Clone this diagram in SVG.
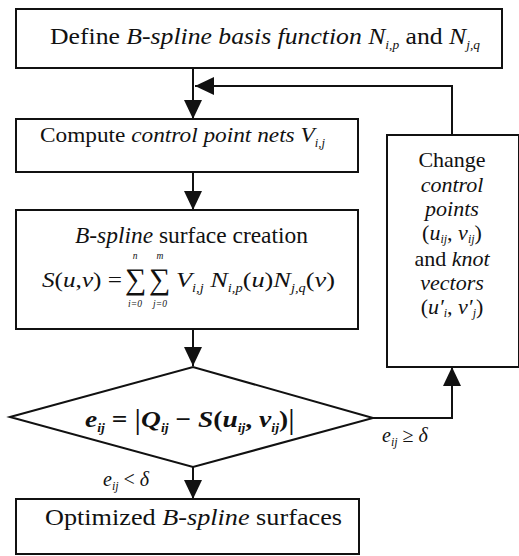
<svg xmlns="http://www.w3.org/2000/svg" width="519" height="556" viewBox="0 0 519 556">
<style>
.box{fill:#fff;stroke:#111;stroke-width:2}
.t{font-family:"Liberation Serif","Times New Roman","DejaVu Serif",serif;font-size:22px;fill:#111}
.big{font-size:23px}
.sig{font-size:30px}
.lbl{font-size:20px}
.dec{font-size:24px;font-weight:bold}
.bar{font-size:30px;font-weight:normal}
.i{font-style:italic}
.sub{font-size:12px;font-style:italic}
.lim{font-family:"Liberation Serif","Times New Roman","DejaVu Serif",serif;font-size:9.5px;font-style:italic;fill:#111;text-anchor:middle}
.c{text-anchor:middle}
.con{fill:none;stroke:#111;stroke-width:2}
</style>
<defs>
<marker id="ah" markerUnits="userSpaceOnUse" markerWidth="20" markerHeight="20" refX="19" refY="9" orient="auto">
<path d="M0,0 L19,9 L0,18 z" fill="#111"/>
</marker>
</defs>
<rect width="519" height="556" fill="#fff"/>
<g id="connectors">
<line class="con" x1="193" y1="68" x2="193" y2="119" marker-end="url(#ah)"/>
<polyline class="con" points="452,135 452,86 195,86" marker-end="url(#ah)"/>
<line class="con" x1="193" y1="172" x2="193" y2="210" marker-end="url(#ah)"/>
<line class="con" x1="193" y1="329" x2="193" y2="366" marker-end="url(#ah)"/>
<line class="con" x1="193" y1="467" x2="193" y2="499" marker-end="url(#ah)"/>
<polyline class="con" points="373,418 452,418 452,367" marker-end="url(#ah)"/>
<text class="t lbl" x="382" y="442"><tspan class="i">e</tspan><tspan class="sub" dy="4">ij</tspan><tspan dy="-4"> ≥ </tspan><tspan class="i">δ</tspan></text>
<text class="t lbl" x="103" y="486"><tspan class="i">e</tspan><tspan class="sub" dy="4">ij</tspan><tspan dy="-4"> &lt; </tspan><tspan class="i">δ</tspan></text>
</g>
<g id="define">
<rect class="box" x="16" y="9" width="486" height="59"/>
<text class="t big" x="50" y="44" textLength="430" lengthAdjust="spacingAndGlyphs">Define <tspan class="i">B-spline basis function N</tspan><tspan class="sub" dy="5">i,p</tspan><tspan dy="-5"> and </tspan><tspan class="i">N</tspan><tspan class="sub" dy="5">j,q</tspan></text>
</g>
<g id="compute">
<rect class="box" x="16" y="119" width="342" height="53"/>
<text class="t" x="40" y="142" textLength="285" lengthAdjust="spacingAndGlyphs">Compute <tspan class="i">control point nets V</tspan><tspan class="sub" dy="5">i,j</tspan></text>
</g>
<g id="surface">
<rect class="box" x="16" y="210" width="342" height="119"/>
<text class="t big" x="75" y="243" textLength="233" lengthAdjust="spacingAndGlyphs"><tspan class="i">B-spline</tspan> surface creation</text>
<text class="t" x="42" y="287" textLength="80" lengthAdjust="spacingAndGlyphs"><tspan class="i">S</tspan>(<tspan class="i">u</tspan>,<tspan class="i">v</tspan>) =</text>
<text class="t sig" x="125" y="289">∑</text>
<text class="t sig" x="149" y="289">∑</text>
<text class="lim" x="135" y="259">n</text>
<text class="lim" x="135" y="307">i=0</text>
<text class="lim" x="160" y="259">m</text>
<text class="lim" x="160" y="307">j=0</text>
<text class="t" x="176" y="287" textLength="159" lengthAdjust="spacingAndGlyphs"><tspan class="i">V</tspan><tspan class="sub" dy="5">i,j</tspan><tspan class="i" dy="-5"> N</tspan><tspan class="sub" dy="5">i,p</tspan><tspan dy="-5">(</tspan><tspan class="i">u</tspan>)<tspan class="i">N</tspan><tspan class="sub" dy="5">j,q</tspan><tspan dy="-5">(</tspan><tspan class="i">v</tspan>)</text>
</g>
<g id="change">
<rect class="box" x="387" y="135" width="132" height="232"/>
<text class="t c" x="452" y="167">Change</text>
<text class="t c i" x="452" y="192">control</text>
<text class="t c i" x="452" y="216">points</text>
<text class="t c" x="452" y="240">(<tspan class="i">u</tspan><tspan class="sub" dy="3">ij</tspan><tspan dy="-3">, </tspan><tspan class="i">v</tspan><tspan class="sub" dy="3">ij</tspan><tspan dy="-3">)</tspan></text>
<text class="t c" x="452" y="266">and <tspan class="i">knot</tspan></text>
<text class="t c i" x="452" y="290">vectors</text>
<text class="t c" x="452" y="314">(<tspan class="i">u′</tspan><tspan class="sub" dy="3">i</tspan><tspan dy="-3">, </tspan><tspan class="i">v′</tspan><tspan class="sub" dy="3">j</tspan><tspan dy="-3">)</tspan></text>
</g>
<g id="decision">
<polygon class="box" points="10,417 193,367 373,418 193,467"/>
<text class="t dec" x="85" y="427" textLength="210" lengthAdjust="spacingAndGlyphs"><tspan class="i">e</tspan><tspan class="sub" dy="5">ij</tspan><tspan dy="-5"> = </tspan><tspan class="bar" dy="2">|</tspan><tspan class="i" dy="-2">Q</tspan><tspan class="sub" dy="5">ij</tspan><tspan dy="-5"> − </tspan><tspan class="i">S</tspan>(<tspan class="i">u</tspan><tspan class="sub" dy="5">ij</tspan><tspan dy="-5">, </tspan><tspan class="i">v</tspan><tspan class="sub" dy="5">ij</tspan><tspan dy="-5">)</tspan><tspan class="bar" dy="2">|</tspan></text>
</g>
<g id="optimized">
<rect class="box" x="16" y="499" width="343" height="55"/>
<text class="t big" x="45" y="525" textLength="297" lengthAdjust="spacingAndGlyphs">Optimized <tspan class="i">B-spline</tspan> surfaces</text>
</g>
</svg>
